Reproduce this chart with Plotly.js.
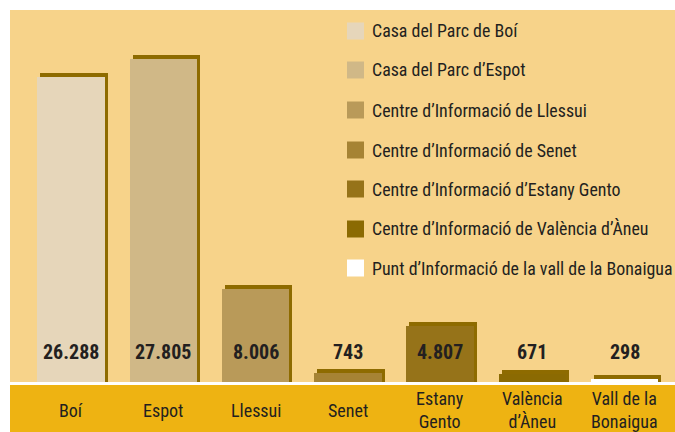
<!DOCTYPE html>
<html>
<head>
<meta charset="utf-8">
<script src="https://cdn.plot.ly/plotly-3.0.1.min.js"></script>
<style>html,body{margin:0;padding:0;background:#fff}#chart{width:675px;height:432px}</style>
</head>
<body>
<div id="chart"></div>
<script>
const categories = ["Boí", "Espot", "Llessui", "Senet", "Estany<br>Gento", "València<br>d’Àneu", "Vall de la<br>Bonaigua"];
const legendNames = ["Casa del Parc de Boí", "Casa del Parc d’Espot", "Centre d’Informació de Llessui", "Centre d’Informació de Senet", "Centre d’Informació d’Estany Gento", "Centre d’Informació de València d’Àneu", "Punt d’Informació de la vall de la Bonaigua"];
const visitors = [26288, 27805, 8006, 743, 4807, 671, 298];
const barColors = ["#E6D6BA", "#D0B887", "#B99A59", "#A68334", "#967319", "#8B6A02", "#FFFFFF"];
const shadowColor = "#8E6B00";

const FONT = "'Roboto Condensed', 'Open Sans Condensed', sans-serif";
const W = 675, H = 432, ML = 10, MT = 10, MB = 50, MR = 0;
const plotW = W - ML - MR, plotH = H - MT - MB;
const xr = [-0.66, 6.545];
const ymax = 32063;
const pxPerCat = plotW / (xr[1] - xr[0]);
const unitsPerPx = ymax / plotH;
const barW = 0.73;
const xs = categories.map((c, i) => i);

function fmt(v) { return String(v).replace(/\B(?=(\d{3})+(?!\d))/g, "."); }

const shadow = {
  type: "bar", x: xs, y: visitors.map(v => v + 4 * unitsPerPx),
  width: barW, offset: -barW / 2 + 3 / pxPerCat,
  marker: { color: shadowColor }, showlegend: false, hoverinfo: "skip"
};
const bars = {
  type: "bar", x: xs, y: visitors, width: barW, offset: -barW / 2,
  marker: { color: barColors }, showlegend: false,
  hovertemplate: "%{y}<extra></extra>"
};

const px2x = px => (px - ML) / plotW;
const py2y = py => (H - MB - py) / plotH;

const annotations = [];
const shapes = [];
shapes.push({ type: "rect", xref: "paper", yref: "paper", x0: 0, x1: 1, y0: py2y(H), y1: py2y(385), fillcolor: "#EEB312", line: { width: 0 }, layer: "below" });

visitors.forEach((v, i) => {
  annotations.push({ x: i, xref: "x", yref: "paper", y: py2y(352), yanchor: "middle", xanchor: "center",
    text: "<b>" + fmt(v) + "</b>", showarrow: false, font: { family: FONT, size: 20, color: "#231F20" } });
  annotations.push({ x: i, xref: "x", yref: "paper", y: py2y(410), yanchor: "middle", xanchor: "center",
    text: categories[i], showarrow: false, font: { family: FONT, size: 18, color: "#231F20" } });
});

const legendRows = [31, 70, 110, 150, 189, 229, 268];
legendNames.forEach((n, i) => {
  const cy = legendRows[i];
  shapes.push({ type: "rect", xref: "paper", yref: "paper", x0: px2x(347), x1: px2x(364), y0: py2y(cy + 8.5), y1: py2y(cy - 8.5),
    fillcolor: barColors[i], line: { width: 0 } });
  annotations.push({ xref: "paper", yref: "paper", x: px2x(370), y: py2y(cy), xanchor: "left", yanchor: "middle",
    text: n, showarrow: false, font: { family: FONT, size: 17.9, color: "#231F20" } });
});

const layout = {
  width: W, height: H,
  margin: { l: ML, r: MR, t: MT, b: MB, pad: 0 },
  paper_bgcolor: "#FFFFFF", plot_bgcolor: "#F7D38A",
  barmode: "overlay", bargap: 0,
  showlegend: false,
  xaxis: { range: xr, showticklabels: false, showgrid: false, zeroline: false, showline: false, ticks: "", fixedrange: true },
  yaxis: { range: [0, ymax], showticklabels: false, showgrid: false, zeroline: false, showline: false, ticks: "", fixedrange: true },
  shapes: shapes, annotations: annotations
};

Plotly.newPlot("chart", [shadow, bars], layout, { displayModeBar: false, staticPlot: true });
</script>
</body>
</html>
